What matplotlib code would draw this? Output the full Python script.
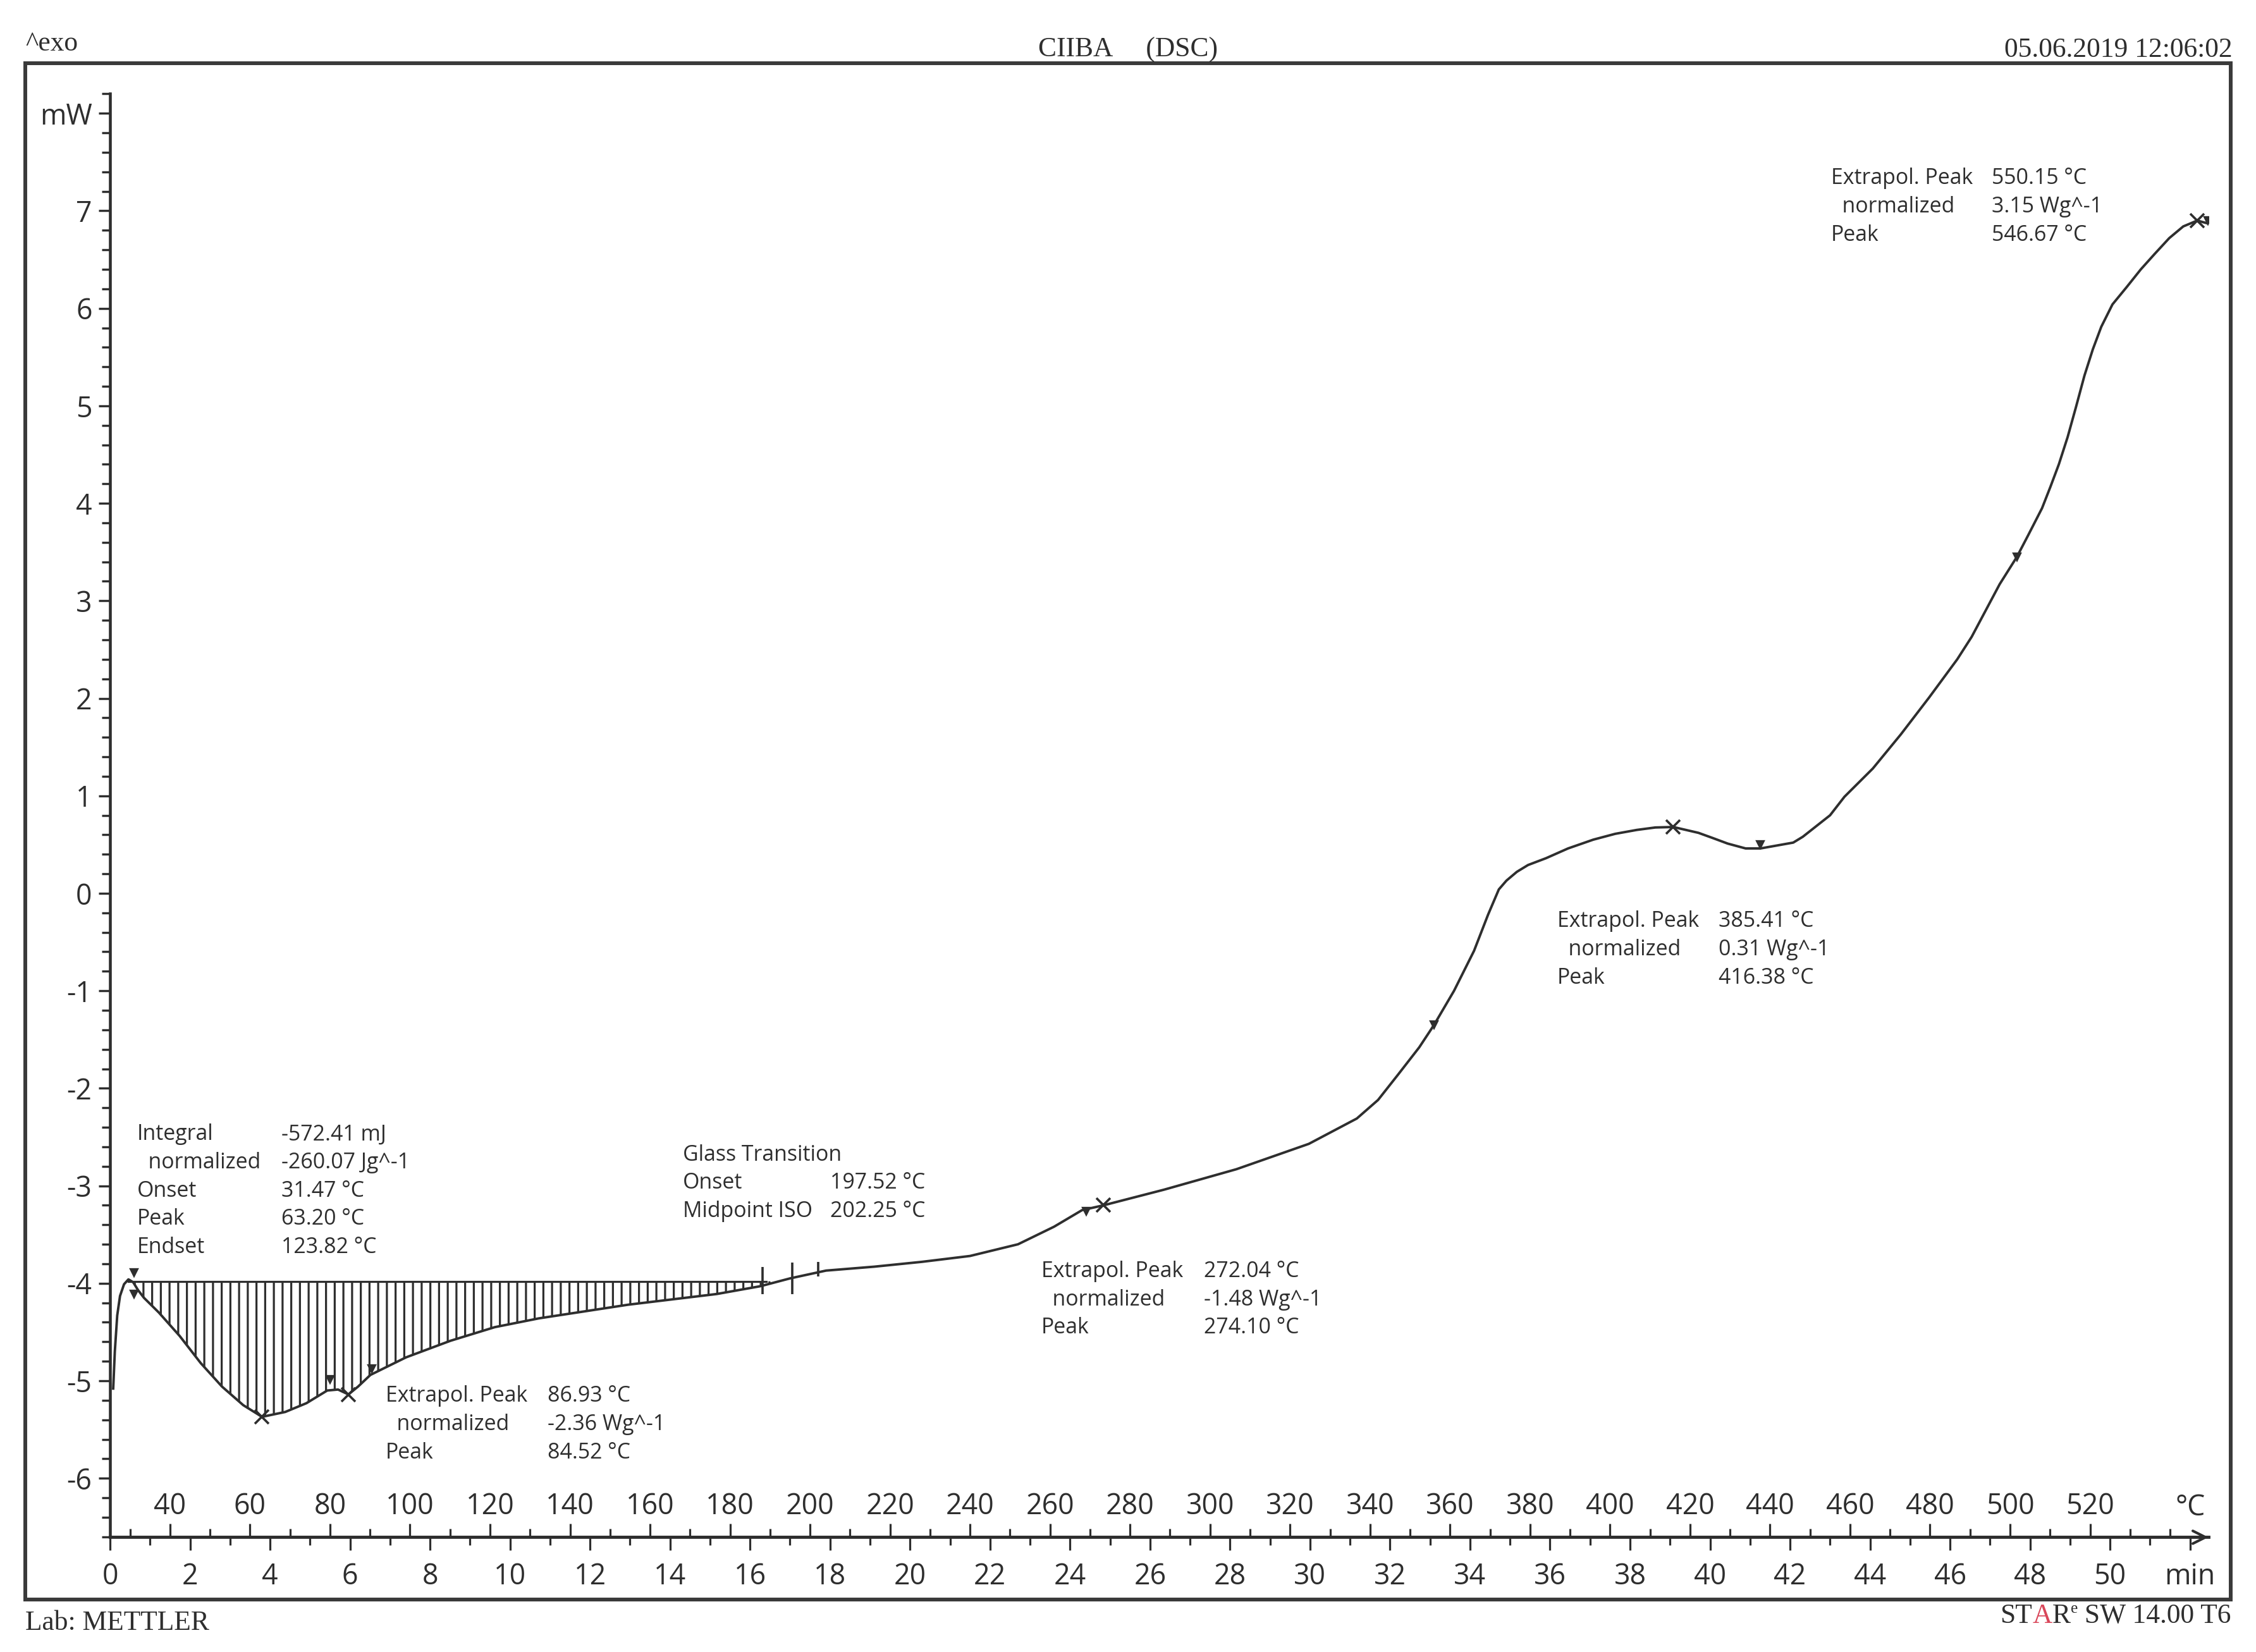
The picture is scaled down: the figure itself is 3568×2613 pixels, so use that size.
import matplotlib.pyplot as plt
import matplotlib.ticker as ticker
from matplotlib.patches import Rectangle

# DSC heat flow curve: time in min, heat flow in mW
time_min = [0.08, 0.12, 0.18, 0.25, 0.35, 0.46, 0.58, 0.70, 0.85, 1.22,
            1.74, 2.27, 2.80, 3.33, 3.80, 4.38, 4.91, 5.43, 5.70, 5.96,
            6.20, 6.51, 7.40, 8.51, 9.62, 10.72, 12.95, 15.17, 16.26, 17.00,
            17.90, 19.10, 20.30, 21.50, 22.70, 23.60, 24.30, 24.84, 26.35, 28.16,
            29.97, 31.17, 31.70, 32.20, 32.73, 33.10, 33.60, 34.10, 34.45, 34.72,
            34.91, 35.17, 35.45, 35.90, 36.45, 37.08, 37.63, 38.17, 38.63, 39.08,
            39.71, 40.08, 40.44, 40.89, 41.26, 42.08, 42.32, 43.00, 43.36, 44.07,
            44.77, 45.48, 46.18, 46.54, 46.89, 47.24, 47.67, 47.95, 48.30, 48.51,
            48.72, 48.94, 49.15, 49.36, 49.57, 49.78, 50.06, 50.42, 50.77, 51.12,
            51.48, 51.83, 52.18, 52.45]
heat_flow = [-5.08, -4.70, -4.33, -4.13, -4.01, -3.96, -3.99, -4.07, -4.15, -4.30,
             -4.54, -4.82, -5.06, -5.25, -5.37, -5.32, -5.23, -5.10, -5.09, -5.14,
             -5.06, -4.94, -4.76, -4.59, -4.45, -4.36, -4.22, -4.11, -4.03, -3.95,
             -3.87, -3.83, -3.78, -3.72, -3.60, -3.42, -3.25, -3.20, -3.04, -2.83,
             -2.57, -2.31, -2.12, -1.86, -1.58, -1.35, -1.00, -0.59, -0.22, 0.04,
             0.13, 0.22, 0.29, 0.36, 0.46, 0.55, 0.61, 0.65, 0.675, 0.68,
             0.62, 0.565, 0.51, 0.46, 0.46, 0.52, 0.58, 0.80, 0.99, 1.28,
             1.63, 2.01, 2.40, 2.63, 2.90, 3.17, 3.45, 3.67, 3.95, 4.17,
             4.40, 4.68, 4.99, 5.31, 5.58, 5.81, 6.04, 6.22, 6.40, 6.56,
             6.72, 6.84, 6.90, 6.87]

# integration baseline of the first endotherm
baseline_mw = -3.98
baseline_t = [0.46, 16.4]

# evaluation marks
peak_t = [3.80, 5.96, 24.84, 39.08, 52.18]
peak_mw = [-5.37, -5.14, -3.20, 0.68, 6.90]
flag_t = [0.60, 0.60, 5.50, 6.55, 24.40, 33.10, 41.26, 47.67, 52.45]
flag_mw = [-3.89, -4.11, -4.99, -4.88, -3.26, -1.35, 0.50, 3.45, 6.90]
limit_t = [16.31, 17.05, 17.70]
limit_lo = [-4.11, -4.11, -3.93]
limit_hi = [-3.83, -3.79, -3.78]

# axis ticks
y_ticks = list(range(-6, 9))
y_labels = [str(v) for v in range(-6, 8)] + ['mW']
min_ticks = list(range(0, 53, 2))
min_labels = [str(v) for v in range(0, 51, 2)] + ['min']
temp_ticks = list(range(40, 521, 20))

# evaluation tables
integral_labels = ['Integral', '  normalized', 'Onset', 'Peak', 'Endset']
integral_values = ['-572.41 mJ', '-260.07 Jg^-1', '31.47 °C', '63.20 °C', '123.82 °C']
glass_labels = ['Glass Transition', 'Onset', 'Midpoint ISO']
glass_values = ['', '197.52 °C', '202.25 °C']
peak_labels = ['Extrapol. Peak', '  normalized', 'Peak']
peak1_values = ['86.93 °C', '-2.36 Wg^-1', '84.52 °C']
peak2_values = ['272.04 °C', '-1.48 Wg^-1', '274.10 °C']
peak3_values = ['385.41 °C', '0.31 Wg^-1', '416.38 °C']
peak4_values = ['550.15 °C', '3.15 Wg^-1', '546.67 °C']

ink = '#2e2e2e'
sans = 'Open Sans'
serif = 'Liberation Serif'
plt.rcParams['font.family'] = sans
plt.rcParams['hatch.color'] = ink
plt.rcParams['hatch.linewidth'] = 1.4

DPI = 165
fig = plt.figure(figsize=(3568.2 / DPI, 2613.2 / DPI), dpi=DPI, facecolor='white')

# outer frame of the printout
fig.add_artist(Rectangle((40 / 3568, 1 - 2530 / 2613), 3488 / 3568, 2430 / 2613,
                         transform=fig.transFigure, fill=False, lw=2.6, ec='#3a3a3a'))

ax = fig.add_axes([174 / 3568, 1 - 2431.5 / 2613, 3318.6 / 3568, 2282.9 / 2613])
ax.patch.set_visible(False)
ax.set_xlim(0, 52.46)
ax.set_ylim(-6.605, 8.2)

# curve, hatched integral and evaluation marks
ax.plot(time_min, heat_flow, color=ink, lw=1.7, solid_joinstyle='round')
ax.plot(baseline_t, [baseline_mw, baseline_mw], color=ink, lw=1.4)
ax.fill_between(time_min, heat_flow, baseline_mw,
                where=[baseline_t[0] <= t <= baseline_t[1] for t in time_min],
                interpolate=True, facecolor='none', edgecolor=ink, hatch='||', linewidth=0)
ax.plot(peak_t, peak_mw, ls='none', marker='x', ms=10, mew=1.6, color=ink)
ax.plot(flag_t, flag_mw, ls='none', marker='v', ms=5, color=ink)
ax.vlines(limit_t, limit_lo, limit_hi, color=ink, lw=1.6)

# axes styling
for side in ['top', 'right']:
    ax.spines[side].set_visible(False)
for side in ['left', 'bottom']:
    ax.spines[side].set_linewidth(2.0)
    ax.spines[side].set_color(ink)

ax.set_yticks(y_ticks, y_labels)
ax.yaxis.set_minor_locator(ticker.MultipleLocator(0.2))
ax.tick_params(axis='y', which='major', length=8, width=1.5, pad=4.4,
               labelsize=19.5, color=ink, labelcolor=ink)
ax.tick_params(axis='y', which='minor', length=5.5, width=1.5, color=ink)

ax.set_xticks(min_ticks, min_labels)
ax.xaxis.set_minor_locator(ticker.MultipleLocator(1))
ax.tick_params(axis='x', which='major', length=9, width=1.4, pad=8,
               labelsize=19.5, color=ink, labelcolor=ink)
ax.tick_params(axis='x', which='minor', length=5.5, width=1.4, color=ink)

# temperature scale (10 K/min from 25 °C) on top of the time axis
sec = ax.secondary_xaxis(0, functions=(lambda t: 25 + 10 * t, lambda T: (T - 25) / 10))
sec.set_alignment('top')
sec.set_xticks(temp_ticks)
sec.xaxis.set_minor_locator(ticker.MultipleLocator(10))
sec.spines['top'].set_linewidth(2.0)
sec.spines['top'].set_color(ink)
sec.tick_params(which='major', direction='out', length=9, width=1.4, pad=2.4,
                labelsize=19.5, color=ink, labelcolor=ink)
sec.tick_params(which='minor', direction='out', length=5.5, width=1.4, color=ink)
ax.annotate('°C', xy=(52, 0), xycoords=('data', 'axes fraction'), xytext=(0, 22.9),
            textcoords='offset points', ha='center', va='center_baseline',
            fontsize=19.5, color=ink)
ax.annotate('', xy=(1, 0), xycoords='axes fraction', xytext=(-12, 0),
            textcoords='offset points', annotation_clip=False,
            arrowprops=dict(arrowstyle='->', lw=1.8, color=ink, mutation_scale=22,
                            shrinkA=0, shrinkB=0))

# evaluation tables: labels, values, label x, value x, first line y
tables = [
    (integral_labels, integral_values, 0.675, 4.28, -2.445),
    (glass_labels, glass_values, 14.32, 18.00, -2.656),
    (peak_labels, peak1_values, 6.886, 10.94, -5.130),
    (peak_labels, peak2_values, 23.28, 27.34, -3.850),
    (peak_labels, peak3_values, 36.18, 40.21, -0.259),
    (peak_labels, peak4_values, 43.03, 47.04, 7.360),
]
step = 0.29
for labels, values, xl, xv, y0 in tables:
    for i, (lab, val) in enumerate(zip(labels, values)):
        y = y0 - i * step
        ax.text(xl, y, lab, fontsize=14.8, color=ink, va='center_baseline', ha='left')
        ax.text(xv, y, val, fontsize=14.8, color=ink, va='center_baseline', ha='left')

# header and footer of the printout
hdr = dict(family=serif, fontsize=19, color=ink, va='baseline')
fig.text(40 / 3568, 1 - 80 / 2613, '^exo', ha='left', **hdr)
fig.text(0.5, 1 - 90 / 2613, 'CIIBA     (DSC)', ha='center', **hdr)
fig.text(3530 / 3568, 1 - 90 / 2613, '05.06.2019 12:06:02', ha='right', **hdr)
fig.text(40 / 3568, 1 - 2578 / 2613, 'Lab: METTLER', ha='left', **hdr)

sw = fig.text(3528 / 3568, 1 - 2576 / 2613, ' SW 14.00 T6', ha='right',
              family=serif, fontsize=19, color=ink, va='bottom')
sup = ax.annotate('e', xy=(0, 0), xycoords=(sw, sw), xytext=(0, 9),
                  textcoords='offset points', ha='right', va='bottom',
                  family=serif, fontsize=11, color=ink, annotation_clip=False)
prev = sup
for piece, col in [('R', ink), ('A', '#d9475a'), ('ST', ink)]:
    prev = ax.annotate(piece, xy=(0, 0), xycoords=(prev, sw), ha='right', va='bottom',
                       family=serif, fontsize=19, color=col, annotation_clip=False)

fig.savefig('out.png', dpi=DPI, facecolor='white')
